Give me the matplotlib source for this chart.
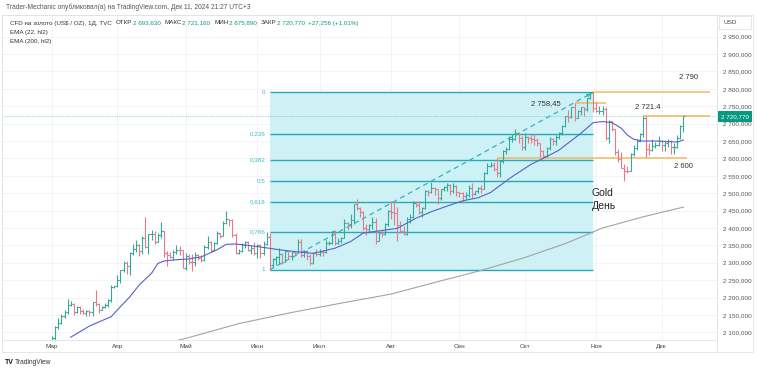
import numpy as np
import matplotlib.pyplot as plt
from matplotlib.patches import Rectangle
from matplotlib.lines import Line2D
from matplotlib.ticker import FuncFormatter

plt.rcParams['font.family'] = ['Liberation Sans', 'DejaVu Sans']

# daily OHLC, XAU/USD, Mar 1 .. Dec 11 2024 (trading days)
opens = [
    2044, 2083, 2114, 2128, 2148, 2159, 2179, 2182, 2158, 2174, 2162, 2155, 2160, 2157, 2186, 2181, 2165, 2172, 2178, 2194, 2230,  # Mar
    2233, 2251, 2280, 2300, 2291, 2329, 2339, 2352, 2333, 2372, 2344, 2383, 2383, 2361, 2379, 2392, 2327, 2322, 2316, 2332, 2337, 2336,  # Apr
    2286, 2320, 2303, 2301, 2323, 2314, 2309, 2346, 2360, 2336, 2358, 2385, 2377, 2415, 2425, 2422, 2379, 2327, 2334, 2351, 2361, 2338, 2343,  # May
    2327, 2350, 2327, 2355, 2375, 2294, 2311, 2316, 2325, 2303, 2333, 2319, 2330, 2328, 2361, 2321, 2334, 2320, 2298, 2327,  # Jun
    2326, 2331, 2330, 2356, 2356, 2392, 2358, 2364, 2371, 2415, 2411, 2422, 2469, 2458, 2445, 2400, 2396, 2409, 2417, 2364, 2387, 2384, 2411,  # Jul
    2448, 2446, 2443, 2410, 2390, 2382, 2427, 2431, 2472, 2465, 2447, 2457, 2507, 2504, 2514, 2512, 2485, 2512, 2518, 2524, 2505, 2520,  # Aug
    2503, 2500, 2493, 2495, 2516, 2497, 2506, 2516, 2512, 2558, 2578, 2582, 2570, 2559, 2592, 2622, 2628, 2657, 2657, 2672, 2658,  # Sep
    2634, 2662, 2658, 2656, 2653, 2644, 2622, 2608, 2630, 2657, 2649, 2662, 2674, 2692, 2721, 2719, 2748, 2716, 2736, 2747, 2742, 2774, 2788,  # Oct
    2744, 2736, 2736, 2743, 2659, 2707, 2685, 2619, 2598, 2573, 2565, 2563, 2612, 2631, 2651, 2670, 2716, 2626, 2624, 2636, 2639,  # Nov
    2650, 2640, 2643, 2650, 2632, 2633, 2660, 2693.63,  # Dec
]
highs = [
    2088, 2119, 2141, 2152, 2164, 2195, 2189, 2185, 2175, 2176, 2168, 2164, 2163, 2188, 2222, 2184, 2177, 2185, 2195, 2236, 2234,
    2266, 2280, 2305, 2305, 2330, 2354, 2365, 2354, 2378, 2431, 2384, 2393, 2392, 2385, 2417, 2392, 2333, 2330, 2338, 2352, 2349, 2338,
    2327, 2326, 2324, 2331, 2326, 2323, 2351, 2378, 2364, 2359, 2392, 2387, 2421, 2450, 2427, 2426, 2385, 2339, 2356, 2364, 2362, 2351, 2360,
    2354, 2353, 2364, 2388, 2387, 2314, 2318, 2342, 2327, 2335, 2335, 2331, 2332, 2368, 2369, 2335, 2337, 2324, 2331, 2339,
    2339, 2337, 2365, 2363, 2392, 2393, 2370, 2375, 2425, 2418, 2440, 2469, 2483, 2461, 2449, 2412, 2412, 2431, 2429, 2390, 2393, 2413, 2451,
    2477, 2477, 2460, 2420, 2406, 2431, 2439, 2477, 2477, 2479, 2461, 2509, 2510, 2531, 2517, 2512, 2512, 2520, 2528, 2526, 2529, 2523,
    2504, 2503, 2504, 2523, 2529, 2507, 2518, 2523, 2560, 2586, 2590, 2589, 2600, 2595, 2625, 2634, 2664, 2670, 2686, 2674, 2665,
    2673, 2664, 2670, 2670, 2659, 2645, 2625, 2633, 2661, 2660, 2668, 2677, 2696, 2722, 2740, 2749, 2758, 2739, 2748, 2749, 2775, 2790, 2790,
    2763, 2750, 2750, 2749, 2710, 2709, 2686, 2626, 2618, 2585, 2578, 2615, 2639, 2656, 2674, 2721, 2722, 2645, 2656, 2647, 2665,
    2652, 2651, 2657, 2653, 2645, 2668, 2695, 2721.16,
]
lows = [
    2039, 2072, 2109, 2125, 2142, 2154, 2176, 2149, 2156, 2154, 2153, 2146, 2146, 2146, 2176, 2156, 2164, 2169, 2174, 2187, 2228,
    2229, 2242, 2272, 2268, 2266, 2321, 2330, 2319, 2325, 2341, 2325, 2366, 2355, 2359, 2372, 2316, 2291, 2313, 2307, 2325, 2323, 2285,
    2280, 2295, 2277, 2292, 2309, 2303, 2306, 2340, 2332, 2336, 2353, 2371, 2376, 2411, 2406, 2374, 2325, 2325, 2331, 2341, 2333, 2326, 2323,
    2314, 2315, 2323, 2351, 2280, 2287, 2293, 2297, 2295, 2302, 2311, 2308, 2321, 2327, 2317, 2316, 2309, 2293, 2296, 2319,
    2318, 2319, 2327, 2352, 2353, 2352, 2355, 2357, 2370, 2393, 2400, 2412, 2453, 2433, 2394, 2379, 2385, 2396, 2353, 2364, 2374, 2380, 2406,
    2426, 2410, 2364, 2385, 2380, 2381, 2415, 2428, 2460, 2441, 2431, 2455, 2492, 2501, 2496, 2470, 2480, 2507, 2506, 2494, 2502, 2493,
    2489, 2472, 2483, 2489, 2485, 2496, 2501, 2500, 2512, 2556, 2574, 2565, 2546, 2548, 2586, 2613, 2623, 2648, 2654, 2644, 2624,
    2625, 2643, 2643, 2639, 2636, 2605, 2604, 2605, 2625, 2640, 2640, 2656, 2667, 2690, 2704, 2715, 2708, 2716, 2725, 2722, 2737, 2771, 2733,
    2733, 2729, 2726, 2652, 2643, 2679, 2610, 2590, 2572, 2536, 2557, 2563, 2607, 2625, 2646, 2662, 2605, 2610, 2621, 2629, 2636,
    2622, 2621, 2633, 2613, 2614, 2630, 2655, 2675.89,
]
closes = [
    2083, 2114, 2128, 2148, 2159, 2179, 2182, 2158, 2174, 2162, 2155, 2160, 2157, 2186, 2181, 2165, 2172, 2178, 2194, 2230, 2233,
    2251, 2280, 2300, 2291, 2329, 2339, 2352, 2333, 2372, 2344, 2383, 2383, 2361, 2379, 2392, 2327, 2322, 2316, 2332, 2337, 2336, 2286,
    2320, 2303, 2301, 2323, 2314, 2309, 2346, 2360, 2336, 2358, 2385, 2377, 2415, 2425, 2422, 2379, 2327, 2334, 2351, 2361, 2338, 2343, 2327,
    2350, 2327, 2355, 2375, 2294, 2311, 2316, 2325, 2303, 2333, 2319, 2330, 2328, 2361, 2321, 2334, 2320, 2298, 2327, 2326,
    2331, 2330, 2356, 2356, 2392, 2358, 2364, 2371, 2415, 2411, 2422, 2469, 2458, 2445, 2400, 2396, 2409, 2417, 2364, 2387, 2384, 2411, 2448,
    2446, 2443, 2410, 2390, 2382, 2427, 2431, 2472, 2465, 2447, 2457, 2507, 2504, 2514, 2512, 2485, 2512, 2518, 2524, 2505, 2520, 2503,
    2500, 2493, 2495, 2516, 2497, 2506, 2516, 2512, 2558, 2578, 2582, 2570, 2559, 2592, 2622, 2628, 2657, 2657, 2672, 2658, 2634,
    2662, 2658, 2656, 2653, 2644, 2622, 2608, 2630, 2657, 2649, 2662, 2674, 2692, 2721, 2719, 2748, 2716, 2736, 2747, 2742, 2774, 2788, 2744,
    2736, 2736, 2743, 2659, 2707, 2685, 2619, 2598, 2573, 2565, 2563, 2612, 2631, 2651, 2670, 2716, 2626, 2624, 2636, 2639, 2650,
    2640, 2643, 2650, 2632, 2633, 2660, 2694, 2720.77,
]

month_idx = [0, 21, 43, 66, 86, 109, 131, 152, 175, 196]
month_lbl = ['Мар', 'Апр', 'Май', 'Июн', 'Июл', 'Авг', 'Сен', 'Окт', 'Ноя', 'Дек']

# EMA values (bar index, price)
ema22_idx = [6, 12, 19, 22, 25, 28, 32, 34, 36, 39, 44, 48, 53, 56, 59, 64, 68, 75, 84, 91,
             96, 100, 103, 111, 117, 122, 128, 132, 137, 141, 144, 148, 154, 159, 163, 170, 174, 177, 180, 183,
             185, 187, 190, 195, 201, 203]
ema22_val = [2086, 2118, 2145, 2174, 2202, 2236, 2270, 2298, 2305, 2308, 2311, 2317, 2337, 2353, 2354, 2349, 2344, 2335, 2327, 2342,
             2361, 2385, 2389, 2399, 2428, 2447, 2466, 2478, 2487, 2502, 2522, 2548, 2583, 2605, 2624, 2672, 2703, 2706, 2703, 2687,
             2667, 2655, 2650, 2650, 2647, 2653]
ema200_idx = [40, 44, 60, 77, 93, 109, 125, 138, 152, 165, 177, 190, 203]
ema200_val = [2076, 2085, 2125, 2157, 2184, 2210, 2248, 2278, 2315, 2355, 2400, 2432, 2460]

fib_levels = [0, 0.236, 0.382, 0.5, 0.618, 0.786, 1]
fib_labels = ['0', '0,236', '0,382', '0,5', '0,618', '0,786', '1']
fib_high, fib_low = 2790, 2280
fib_start, fib_end = 70, 174

last_price = 2720.77

W, H = 758, 372
fig = plt.figure(figsize=(W / 100, H / 100), dpi=100)


def fx(px):
    return px / W


def fy(py):
    return 1 - py / H


ax = fig.add_axes([fx(2), fy(340), fx(717) - fx(2), fy(15) - fy(340)])
ax.set_xlim(-16.1, 213.8)
ax.set_ylim(2077.9, 3012.4)

ax.set_yticks(np.arange(2100, 2951, 50))
ax.yaxis.set_major_formatter(FuncFormatter(lambda v, p: f"{int(v):,}".replace(',', ' ') + ",000"))
ax.yaxis.tick_right()
ax.tick_params(axis='y', length=0, pad=4, labelsize=4.6, labelcolor='#555555')
ax.set_xticks(month_idx)
ax.set_xticklabels(month_lbl)
ax.tick_params(axis='x', length=0, pad=3, labelsize=4.6, labelcolor='#444444')
ax.grid(color='#f0f2f6', lw=0.6)
ax.set_axisbelow(True)
for s in ax.spines.values():
    s.set_color('#e0e3eb')
    s.set_linewidth(0.6)

# fib retracement
ax.add_patch(Rectangle((fib_start, fib_low), fib_end - fib_start, fib_high - fib_low,
                       fc='#cdf1f5', ec='none', zorder=1))
for lv, lb in zip(fib_levels, fib_labels):
    p = fib_high - lv * (fib_high - fib_low)
    ax.hlines(p, fib_start, fib_end, colors='#2aa8b8', lw=1.0, zorder=2)
    ax.text(fib_start - 1.5, p, lb, ha='right', va='center', fontsize=4.5, color='#3cbccc')
ax.plot([fib_start, fib_end], [fib_low, fib_high], ls=(0, (4, 3)), color='#2fb3c4', lw=0.9, zorder=2)
ax.annotate('', xy=(fib_end, fib_high), xytext=(fib_end - 2.5, fib_high - 12),
            arrowprops=dict(arrowstyle='->', color='#2fb3c4', lw=0.8, mutation_scale=5))

# last price line
ax.axhline(last_price, color='#58b8ad', ls=(0, (1, 1.5)), lw=0.5, zorder=2)

# horizontal levels
orange = '#f4b860'
ax.hlines(2790, 174, 211.6, colors=orange, lw=1.1, zorder=2)
ax.hlines(2758.45, 168, 178, colors=orange, lw=1.1, zorder=2)
ax.hlines(2721.4, 190, 211.6, colors=orange, lw=1.1, zorder=2)
ax.hlines(2600, 143, 204, colors=orange, lw=1.1, zorder=2)
ax.text(204.5, 2834, '2 790', ha='center', va='center', fontsize=5.5, color='#333333')
ax.text(158.8, 2759, '2 758,45', ha='center', va='center', fontsize=5.5, color='#333333')
ax.text(191.6, 2745, '2 721.4', ha='center', va='center', fontsize=5.5, color='#333333')
ax.text(203, 2578, '2 600', ha='center', va='center', fontsize=5.5, color='#333333')
ax.text(173.6, 2500, 'Gold', ha='left', va='center', fontsize=7.5, color='#222222')
ax.text(173.6, 2463, 'День', ha='left', va='center', fontsize=7.5, color='#222222')

# EMAs
ax.plot(ema200_idx, ema200_val, color='#a3a3a3', lw=0.8, zorder=3)
ax.plot(ema22_idx, ema22_val, color='#5b5fc7', lw=0.8, zorder=4)

# OHLC bars
o = np.array(opens)
h = np.array(highs)
l = np.array(lows)
c = np.array(closes)
x = np.arange(len(c))
cols = np.where(c >= o, '#33a99a', '#e57a88')
ax.vlines(x, l, h, colors=cols, lw=0.8, zorder=3)
ax.hlines(o, x - 0.55, x, colors=cols, lw=0.8, zorder=3)
ax.hlines(c, x, x + 0.55, colors=cols, lw=0.8, zorder=3)

# frame, axis decorations
fig.add_artist(Rectangle((fx(2), fy(352)), fx(753) - fx(2), fy(15) - fy(352),
                         transform=fig.transFigure, fc='none', ec='#e0e3eb', lw=0.6))
fig.add_artist(Line2D([fx(717), fx(717)], [fy(15), fy(352)], color='#e0e3eb', lw=0.6))
fig.add_artist(Rectangle((fx(719), fy(29)), fx(32), fy(0) - fy(13),
                         transform=fig.transFigure, fc='white', ec='#e0e3eb', lw=0.6))
fig.text(fx(724), fy(22.5), 'USD', fontsize=4.6, color='#444444', va='center')
fig.add_artist(Rectangle((fx(718), fy(122)), fx(34), fy(0) - fy(11),
                         transform=fig.transFigure, fc='#089981', ec='none'))
fig.text(fx(735), fy(116.5), '2 720,770', fontsize=4.5, color='white', va='center', ha='center')

# header texts
fig.text(fx(6), fy(7), 'Trader-Mechanic опубликовал(а) на TradingView.com, Дек 11, 2024 21:27 UTC+3',
         fontsize=4.8, color='#555555', va='center')

green = '#089981'
row = [('CFD на золото (US$ / OZ), 1Д, TVC', '#333333', 4),
       ('ОТКР', '#333333', 0.5), ('2 693,630', green, 4),
       ('МАКС', '#333333', 0.5), ('2 721,160', green, 4),
       ('МИН', '#333333', 0.5), ('2 675,890', green, 4),
       ('ЗАКР', '#333333', 0.5), ('2 720,770', green, 3),
       ('+27,256 (+1,01%)', green, 0)]
renderer = fig.canvas.get_renderer()
cur = 10
for s, col, gap in row:
    t = fig.text(fx(cur), fy(23), s, fontsize=4.5, color=col, va='center')
    bb = t.get_window_extent(renderer)
    cur = bb.x1 + gap
fig.text(fx(10), fy(32.5), 'EMA (22, hl2)', fontsize=4.5, color='#333333', va='center')
fig.text(fx(10), fy(42), 'EMA (200, hl2)', fontsize=4.5, color='#333333', va='center')

fig.text(fx(5), fy(362), 'TV', fontsize=5, color='#131722', va='center', fontweight='bold')
fig.text(fx(15), fy(362), 'TradingView', fontsize=4.8, color='#333333', va='center')

fig.savefig('out.png', dpi=100, facecolor='white')
